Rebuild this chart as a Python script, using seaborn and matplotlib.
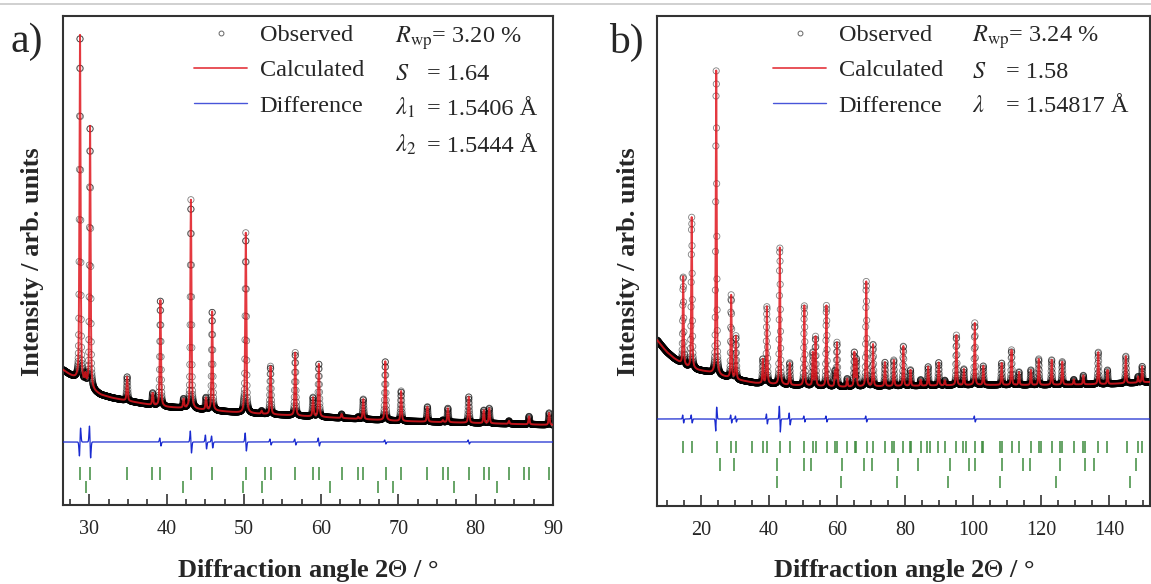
import numpy as np
import pandas as pd
import matplotlib
matplotlib.use('Agg')
import matplotlib.pyplot as plt
import seaborn as sns
from matplotlib.lines import Line2D
from matplotlib.ticker import MultipleLocator

# ---------------- panel a) ----------------
a_xlim = (26.6, 90.0)
a_bg_pos = [26.6, 27.5, 28.5, 29.5, 30.5, 31.5, 33.0, 35.0, 38.0, 40.0, 45.0, 50.0, 55.0, 60.0, 70.0, 80.0, 90.0]
a_bg_int = [135, 130, 125, 120, 114, 110, 107, 104, 100, 98, 95, 92, 90, 88, 84, 82, 80]
a_peak_pos = [28.8, 29.5, 30.1, 34.9, 38.2, 39.2, 42.2, 43.15, 45.1, 45.9, 50.0, 50.25, 52.3,
              53.45, 56.65, 58.95, 59.7, 62.65, 64.8, 65.45, 68.3, 70.35, 73.75, 75.75, 76.4,
              79.1, 81.05, 81.75, 84.3, 86.9, 89.5]
a_peak_int = [346, 8, 262, 24, 12, 106, 9, 209, 12, 99, 5, 180, 3,
              48, 63, 19, 53, 4, 2, 20, 59, 30, 15, 2, 14,
              26, 13, 15, 3, 8, 12]
a_res_pos = [28.8, 30.1, 39.2, 43.15, 45.1, 45.9, 50.25, 53.45, 56.65, 59.7, 68.3, 79.1]
a_res_amp = [-14, 16, 4, 11, 7, 6, 9, 3, 3, 4, 2, 2]
a_hkl_1 = [28.79, 30.09, 34.92, 38.16, 39.15, 43.16, 45.88, 50.24, 52.74, 53.48, 56.67, 58.96,
           59.69, 62.67, 64.83, 65.48, 68.33, 70.35, 73.76, 75.75, 76.44, 79.11, 81.06, 81.75,
           84.34, 86.28, 86.93, 89.52]
a_hkl_2 = [29.53, 42.17, 49.94, 52.31, 61.16, 67.42, 69.36, 77.13, 82.74]

# ---------------- panel b) ----------------
b_xlim = (7.1, 152.0)
b_bg_pos = [7.1, 8.5, 10.0, 12.0, 14.0, 16.0, 19.0, 22.0, 26.0, 31.0, 36.0, 45.0, 60.0, 80.0, 100.0, 120.0, 140.0, 152.0]
b_bg_int = [166, 160, 154, 148, 143, 139, 136, 134, 130, 126, 123, 121, 119, 120, 121, 121, 122, 124]
b_peak_pos = [14.8, 17.3, 24.5, 28.9, 30.3, 38.2, 39.4, 43.2, 46.1, 50.4, 52.9, 53.7, 56.9,
              59.4, 60.0, 63.0, 65.1, 65.7, 68.6, 70.6, 74.1, 76.7, 79.5, 81.6, 84.6, 86.8,
              89.9, 91.7, 95.1, 97.3, 100.5, 103.0, 108.4, 111.3, 113.5, 117.0, 119.3, 123.1,
              126.2, 129.6, 132.4, 136.8, 139.5, 144.9, 148.5, 149.7]
b_peak_int = [88, 151, 304, 83, 43, 24, 77, 137, 22, 80, 33, 49, 81,
              15, 44, 8, 34, 27, 105, 42, 24, 26, 40, 16, 6, 19,
              23, 5, 50, 16, 62, 19, 22, 35, 13, 15, 26, 25,
              23, 5, 9, 32, 14, 27, 6, 16]
b_res_pos = [14.8, 17.3, 24.5, 28.9, 30.3, 39.4, 43.2, 46.1, 50.4, 56.9, 68.6, 100.5]
b_res_amp = [4, 4, -12, 4, 3, 5, 13, 6, 3, 3, 3, 3]
b_hkl_1 = [14.8, 17.3, 24.6, 28.8, 30.2, 34.9, 38.3, 39.3, 43.2, 46.2, 50.4, 52.9, 53.7, 57.0,
           59.4, 59.9, 63.0, 65.2, 65.7, 68.7, 70.6, 74.1, 76.2, 76.7, 79.5, 81.4, 81.9, 84.7,
           86.6, 87.3, 89.7, 91.7, 95.1, 97.1, 97.8, 100.5, 102.5, 103.0, 107.9, 108.6, 111.3,
           113.5, 117.0, 119.3, 119.9, 123.1, 125.5, 126.2, 129.6, 132.2, 132.9, 136.6, 139.5,
           145.1, 148.5, 149.7]
b_hkl_2 = [25.6, 29.7, 42.5, 50.3, 52.5, 61.6, 67.9, 70.2, 77.8, 83.7, 93.2, 98.8, 100.7,
           108.4, 114.7, 116.7, 125.5, 132.9, 135.5, 147.8]
b_hkl_3 = [42.3, 61.3, 77.5, 92.5, 107.9, 124.5, 146.1]

a_stats = [(r'$R_{\rm wp}$= 3.20 %', None), (r'$S$', '= 1.64'),
           (r'$\lambda_1$', '= 1.5406 Å'), (r'$\lambda_2$', '= 1.5444 Å')]
b_stats = [(r'$R_{\rm wp}$= 3.24 %', None), (r'$S$', '= 1.58'), (r'$\lambda$', '= 1.54817 Å')]


def profile(x, bg_pos, bg_int, pos, ht, fwhm, eta=0.5):
    y = np.interp(x, bg_pos, bg_int)
    for p, h in zip(pos, ht):
        u = (x - p) / fwhm
        y = y + h * (eta / (1 + 4 * u ** 2) + (1 - eta) * np.exp(-4 * np.log(2) * u ** 2))
    return y


def residual(x, pos, amp, base, s):
    d = np.full_like(x, float(base))
    for p, r in zip(pos, amp):
        u = (x - p) / s
        d = d - r * u * np.exp(0.5 - u ** 2 / 2)
    return d


sns.set_theme(style='white')
plt.rcParams['font.family'] = ['Liberation Serif', 'DejaVu Serif']
plt.rcParams['mathtext.fontset'] = 'stix'
plt.rcParams['axes.edgecolor'] = '#333333'
plt.rcParams['axes.linewidth'] = 1.5

W, H = 1151, 584
fig = plt.figure(figsize=(W / 100, H / 100), dpi=100)

RED = '#e0161e'
BLUE = '#1a2bd0'
GREEN = '#3d8b3d'


def fx(px):
    return px / W


def fy(py):
    return 1 - py / H


def panel(rect, xlim, ylim, bg_pos, bg_int, pos, ht, fwhm, step, res_pos, res_amp, diff0,
          hkl_rows, major, minor):
    ax = fig.add_axes(rect)
    xc = np.arange(xlim[0], xlim[1], step / 4)
    xo = np.arange(xlim[0] + step / 2, xlim[1], step)
    calc = pd.DataFrame({'x': xc, 'y': profile(xc, bg_pos, bg_int, pos, ht, fwhm)})
    obs = pd.DataFrame({'x': xo, 'y': profile(xo, bg_pos, bg_int, pos, ht, fwhm)})
    diff = pd.DataFrame({'x': xo, 'y': residual(xo, res_pos, res_amp, diff0, fwhm * 0.45)})
    sns.scatterplot(data=obs, x='x', y='y', ax=ax, s=20, facecolor='none',
                    edgecolor=(0, 0, 0, 0.5), linewidth=0.6, zorder=2)
    sns.lineplot(data=calc, x='x', y='y', ax=ax, color=RED, lw=1.4, alpha=0.85,
                 estimator=None, sort=False, zorder=3)
    sns.lineplot(data=diff, x='x', y='y', ax=ax, color=BLUE, lw=0.9,
                 estimator=None, sort=False, zorder=3)
    for vals, (lo, hi) in hkl_rows:
        ax.vlines(vals, lo, hi, color=GREEN, lw=1.1)
    ax.set_xlim(*xlim)
    ax.set_ylim(*ylim)
    ax.set_yticks([])
    ax.set_xlabel('')
    ax.set_ylabel('')
    ax.xaxis.set_major_locator(MultipleLocator(major))
    ax.xaxis.set_minor_locator(MultipleLocator(minor))
    ax.tick_params(axis='x', which='both', direction='in', bottom=True, top=False,
                   width=1.2, color='#333333', labelsize=14.5, pad=11)
    ax.tick_params(axis='x', which='major', length=8)
    ax.tick_params(axis='x', which='minor', length=4.5)
    for sp in ax.spines.values():
        sp.set_visible(True)
    return ax


ax_a = panel([fx(63), 1 - 505 / H, 490 / W, 489 / H], a_xlim, (0, 489),
             a_bg_pos, a_bg_int, a_peak_pos, a_peak_int, 0.17, 0.02,
             a_res_pos, a_res_amp, 63,
             [(a_hkl_1, (25, 38)), (a_hkl_2, (12, 24))], 10, 2.5)
ax_b = panel([fx(657), 1 - 506 / H, 493 / W, 490 / H], b_xlim, (0, 490),
             b_bg_pos, b_bg_int, b_peak_pos, b_peak_int, 0.32, 0.045,
             b_res_pos, b_res_amp, 87,
             [(b_hkl_1, (53, 65)), (b_hkl_2, (35, 48)), (b_hkl_3, (18, 30))], 20, 5)

handles = [Line2D([], [], ls='none', marker='o', ms=3.5, mfc='none', mec='0.4', mew=0.7),
           Line2D([], [], color=RED, lw=1.3, alpha=0.8),
           Line2D([], [], color=BLUE, lw=1.0, alpha=0.8)]
labels = ['Observed', 'Calculated', 'Difference']
for ax, lx in [(ax_a, 194), (ax_b, 773)]:
    ax.legend(handles, labels, loc='upper left', bbox_to_anchor=(fx(lx), fy(24)),
              bbox_transform=fig.transFigure, frameon=False, fontsize=17.5,
              handlelength=2.2, handletextpad=0.5, labelspacing=0.55,
              borderpad=0, borderaxespad=0)

for stats, x0, eqx, baselines in [
        (a_stats, 395, [None, 427, 427, 427], [43, 80, 115, 152]),
        (b_stats, 972, [None, 1006, 1006], [42, 78, 112])]:
    for (sym, val), ex, by in zip(stats, eqx, baselines):
        fig.text(fx(x0), fy(by), sym, fontsize=17.5, va='baseline', ha='left')
        if val is not None:
            fig.text(fx(ex), fy(by), val, fontsize=17.5, va='baseline', ha='left')

fig.text(fx(11), fy(42), 'a)', fontsize=30, va='center', ha='left')
fig.text(fx(609), fy(42), 'b)', fontsize=30, va='center', ha='left')

for cx in [33, 628]:
    fig.text(fx(cx), fy(262), 'Intensity / arb. units', rotation=90, fontsize=19,
             fontweight='bold', ha='center', va='center')
for cx in [308, 904]:
    fig.text(fx(cx), fy(577), r'Diffraction angle 2$\mathit{\Theta}$ / °', fontsize=19,
             fontweight='bold', ha='center', va='baseline')

fig.add_artist(Line2D([0, 1], [fy(3.5), fy(3.5)], transform=fig.transFigure,
                      color='#c8c8c8', lw=1.2))

fig.savefig('out.png', dpi=100)
plt.close(fig)
